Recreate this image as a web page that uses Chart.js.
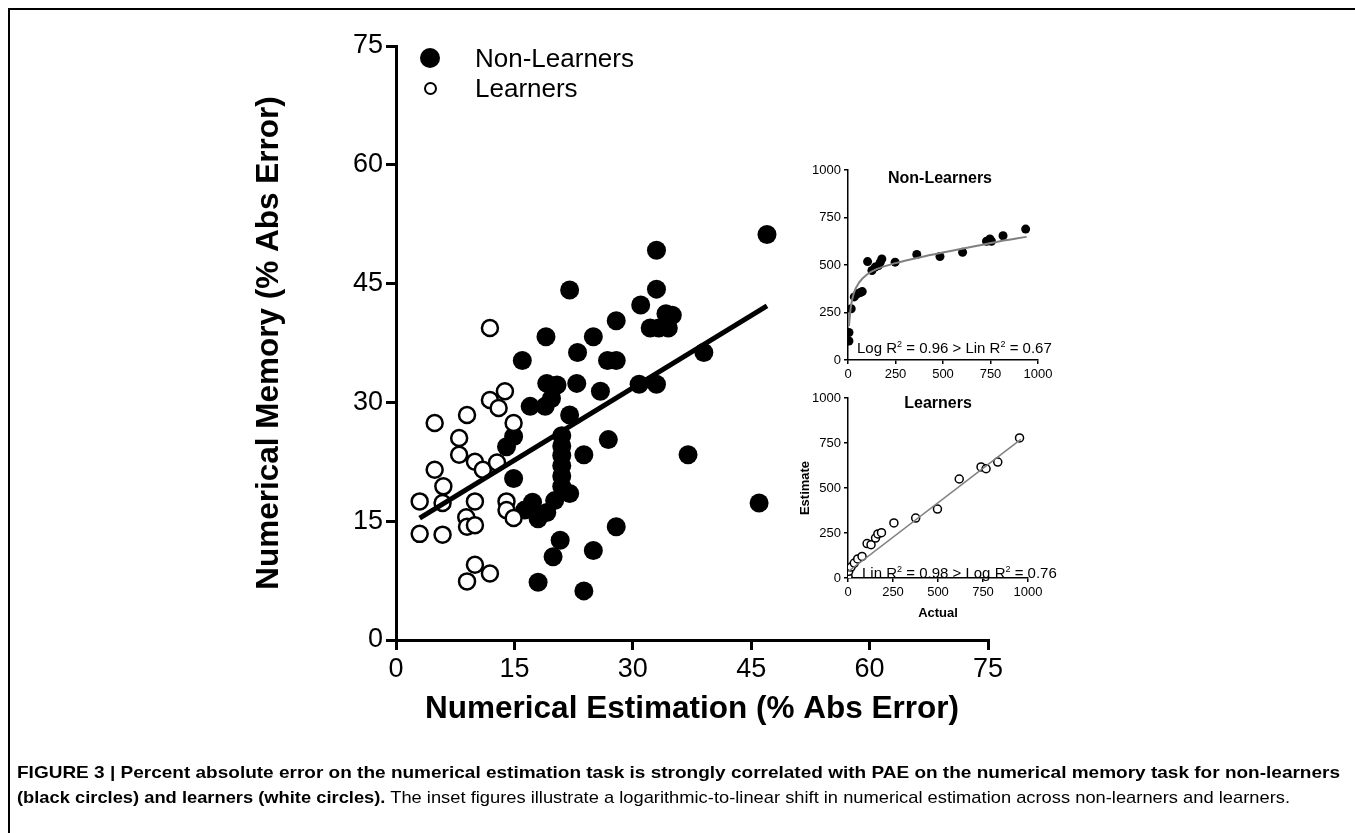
<!DOCTYPE html>
<html>
<head>
<meta charset="utf-8">
<script src="https://cdn.jsdelivr.net/npm/chart.js@4.4.0/dist/chart.umd.min.js"></script>
<style>
    html, body { margin: 0; padding: 0; background: #fff; }
    body { width: 1355px; height: 833px; position: relative; overflow: hidden; color: #000;
           font-family: 'Liberation Sans', Arial, Helvetica, sans-serif; }
    canvas { position: absolute; }
    .frame { position: absolute; left: 8px; top: 8px; width: 1400px; height: 900px;
             border-top: 2.5px solid #000; border-left: 2.5px solid #000; }
    .txt { position: absolute; white-space: nowrap; }
    .dot { position: absolute; border-radius: 50%; box-sizing: border-box; }
    sup { font-size: 0.6em; line-height: 0; vertical-align: 0.65em; }
    .caption { position: absolute; left: 17px; white-space: nowrap; transform-origin: 0 50%;
               font-family: 'Liberation Sans Narrow', 'Liberation Sans', Arial, sans-serif; font-size: 17px; }
</style>
</head>
<body>
<div class="frame"></div>

<canvas id="main" width="1355" height="833" style="left:0;top:0;"></canvas>
<canvas id="inset_nl" width="270" height="245" style="left:790px;top:150px;"></canvas>
<canvas id="inset_l" width="290" height="250" style="left:760px;top:380px;"></canvas>

<!-- legend -->
<div class="dot" style="left:420px;top:48px;width:20px;height:20px;background:#000;"></div>
<div class="dot" style="left:423.5px;top:81.5px;width:13px;height:13px;border:2px solid #000;background:#fff;"></div>
<div class="txt" style="left:475px;top:42px;font-size:26px;line-height:32px;">Non-Learners</div>
<div class="txt" style="left:475px;top:72px;font-size:26px;line-height:32px;">Learners</div>

<!-- inset annotations -->
<div class="txt" style="left:880px;top:169px;width:120px;text-align:center;font-size:16px;font-weight:bold;line-height:18px;">Non-Learners</div>
<div class="txt" style="left:857px;top:338px;font-size:15px;line-height:20px;">Log R<sup>2</sup> = 0.96 &gt; Lin R<sup>2</sup> = 0.67</div>
<div class="txt" style="left:878px;top:394px;width:120px;text-align:center;font-size:16px;font-weight:bold;line-height:18px;">Learners</div>
<div class="txt" style="left:862px;top:563px;font-size:15px;line-height:20px;">Lin R<sup>2</sup> = 0.98 &gt; Log R<sup>2</sup> = 0.76</div>

<!-- caption -->
<div class="caption" id="cap1" style="top:763px;font-weight:bold;">FIGURE 3 | Percent absolute error on the numerical estimation task is strongly correlated with PAE on the numerical memory task for non-learners</div>
<div class="caption" id="cap2" style="top:788px;"><b>(black circles) and learners (white circles).</b> The inset figures illustrate a logarithmic-to-linear shift in numerical estimation across non-learners and learners.</div>

<script>
// main scatter: % abs error, estimation (x) vs memory (y)
var nonLearnersX = [47, 33, 22, 33, 31, 34.2, 35, 32.2, 33.3, 34.5,
                    27.9, 19, 25, 23, 16, 26.8, 27.9, 39, 19.1, 20.4,
                    22.9, 25.9, 30.8, 33, 17, 18.9, 19.7, 22, 14.9, 14,
                    21, 21, 21, 21, 21, 21, 22, 26.9, 23.8, 37,
                    14.9, 16.3, 17.3, 18, 19.1, 20.1, 46, 27.9, 20.8, 19.9,
                    25, 18, 23.8];
var nonLearnersY = [51.2, 49.2, 44.2, 44.3, 42.3, 41.2, 41, 39.4, 39.4, 39.4,
                    40.3, 38.3, 38.3, 36.3, 35.3, 35.3, 35.3, 36.3, 32.4, 32.2,
                    32.4, 31.4, 32.3, 32.3, 29.5, 29.5, 30.5, 28.4, 25.7, 24.4,
                    25.8, 24.5, 23.3, 22, 20.7, 19.4, 18.5, 25.3, 23.4, 23.4,
                    20.4, 16.4, 17.4, 15.3, 16.1, 17.6, 17.3, 14.3, 12.6, 10.5,
                    11.3, 7.3, 6.2];
var learnersX = [11.9, 13.8, 11.9, 13.0, 4.9, 9.0, 14.9, 8.0, 8.0, 10.0,
                 11.0, 12.8, 4.9, 6.0, 3.0, 5.9, 10.0, 14.0, 14.0, 14.9,
                 8.9, 9.0, 10.0, 3.0, 5.9, 10.0, 9.0, 11.9];
var learnersY = [39.4, 31.4, 30.3, 29.3, 27.4, 28.4, 27.4, 25.5, 23.4, 22.5,
                 21.5, 22.4, 21.5, 19.4, 17.5, 17.3, 17.5, 17.5, 16.4, 15.4,
                 15.5, 14.3, 14.5, 13.4, 13.3, 9.5, 7.4, 8.4];
var fitX = [3, 47];
var fitY = [15.4, 42.2];
var mainTicks = [0, 15, 30, 45, 60, 75];

// inset: non-learners, actual vs estimate
var nlActual = [5, 5, 17, 33, 51, 65, 75, 103, 126, 143, 161, 170, 178, 248, 362, 484, 603, 729, 747, 755, 816, 935];
var nlEstimate = [100, 145, 270, 332, 349, 355, 360, 518, 471, 489, 497, 515, 532, 515, 555, 545, 567, 625, 637, 625, 654, 689];
var nlCurveX = [5, 15, 30, 60, 100, 150, 250, 400, 600, 800, 940];
var nlCurveY = [180, 280, 350, 410, 450, 478, 510, 545, 585, 625, 648];

// inset: learners, actual vs estimate
var lActual = [0, 4, 17, 35, 54, 78, 106, 128, 153, 166, 186, 255, 376, 497, 618, 739, 767, 832, 953];
var lEstimate = [9, 37, 61, 83, 106, 120, 191, 185, 222, 245, 252, 306, 333, 383, 550, 617, 607, 644, 778];
var lFitX = [0, 960];
var lFitY = [35, 770];
var insetTicks = [0, 250, 500, 750, 1000];

Chart.defaults.font.family = "'Liberation Sans', Arial, Helvetica, sans-serif";
Chart.defaults.color = '#000';

function toPoints(xs, ys) {
    var out = [];
    for (var i = 0; i < xs.length; i++) out.push({x: xs[i], y: ys[i]});
    return out;
}

// linear axis with fixed tick list, ticks outside, no grid inside
function makeAxis(ticks, lw, tickLen, fontSize, title, fitSize, horizontal) {
    var ax = {
        type: 'linear',
        min: ticks[0],
        max: ticks[ticks.length - 1],
        afterBuildTicks: function(s) {
            s.ticks = ticks.map(function(v) { return {value: v}; });
        },
        ticks: {
            font: {size: fontSize}, color: '#000', padding: 3, maxRotation: 0, autoSkip: false,
            callback: function(v) { return String(v); }
        },
        grid: {drawOnChartArea: false, drawTicks: true, tickLength: tickLen, lineWidth: lw, color: '#000'},
        border: {display: true, width: lw, color: '#000'},
        title: title || {display: false}
    };
    ax.afterFit = function(s) {
        if (horizontal) s.height = fitSize; else s.width = fitSize;
    };
    return ax;
}

new Chart(document.getElementById('main'), {
    type: 'scatter',
    data: {
        datasets: [{
            label: 'Fit',
            data: toPoints(fitX, fitY),
            showLine: true,
            borderColor: '#000',
            borderWidth: 5,
            pointRadius: 0,
            order: 0
        }, {
            label: 'Learners',
            data: toPoints(learnersX, learnersY),
            pointRadius: 8,
            pointBackgroundColor: '#fff',
            pointBorderColor: '#000',
            pointBorderWidth: 2.5,
            order: 1
        }, {
            label: 'Non-Learners',
            data: toPoints(nonLearnersX, nonLearnersY),
            pointRadius: 9.5,
            pointBackgroundColor: '#000',
            pointBorderColor: '#000',
            pointBorderWidth: 0,
            order: 2
        }]
    },
    options: {
        responsive: false,
        animation: false,
        layout: {padding: {left: 240, top: 46, right: 367, bottom: 93}},
        plugins: {legend: {display: false}, tooltip: {enabled: false}},
        scales: {
            x: makeAxis(mainTicks, 3, 10, 27, {
                display: true, text: 'Numerical Estimation (% Abs Error)', color: '#000',
                font: {size: 31.5, weight: 'bold'}, padding: {top: 0, bottom: 12}
            }, 100, true),
            y: makeAxis(mainTicks, 3, 10, 27, {
                display: true, text: 'Numerical Memory (% Abs Error)', color: '#000',
                font: {size: 31.5, weight: 'bold'}, padding: {top: 10, bottom: 0}
            }, 156, false)
        }
    }
});

// inset top: non-learners
new Chart(document.getElementById('inset_nl'), {
    type: 'scatter',
    data: {
        datasets: [{
            label: 'Log fit',
            data: toPoints(nlCurveX, nlCurveY),
            showLine: true,
            cubicInterpolationMode: 'monotone',
            borderColor: '#808080',
            borderWidth: 2,
            pointRadius: 0,
            order: 0
        }, {
            label: 'Non-Learners',
            data: toPoints(nlActual, nlEstimate),
            pointRadius: 4.5,
            pointBackgroundColor: '#000',
            pointBorderWidth: 0,
            order: 1
        }]
    },
    options: {
        responsive: false,
        animation: false,
        layout: {padding: {left: 18, top: 20, right: 22, bottom: 5}},
        plugins: {legend: {display: false}, tooltip: {enabled: false}},
        scales: {
            x: makeAxis(insetTicks, 1.5, 4, 13, null, 30, true),
            y: makeAxis(insetTicks, 1.5, 4, 13, null, 40, false)
        }
    }
});

// inset bottom: learners
new Chart(document.getElementById('inset_l'), {
    type: 'scatter',
    data: {
        datasets: [{
            label: 'Linear fit',
            data: toPoints(lFitX, lFitY),
            showLine: true,
            borderColor: '#808080',
            borderWidth: 1.5,
            pointRadius: 0,
            order: 0
        }, {
            label: 'Learners',
            data: toPoints(lActual, lEstimate),
            pointRadius: 4,
            pointBackgroundColor: '#fff',
            pointBorderColor: '#000',
            pointBorderWidth: 1.5,
            order: 1
        }]
    },
    options: {
        responsive: false,
        animation: false,
        layout: {padding: {left: 28, top: 18, right: 22, bottom: 7}},
        plugins: {legend: {display: false}, tooltip: {enabled: false}},
        scales: {
            x: makeAxis(insetTicks, 1.5, 4, 13, {
                display: true, text: 'Actual', color: '#000',
                font: {size: 13, weight: 'bold'}, padding: {top: 0, bottom: 2}
            }, 45, true),
            y: makeAxis(insetTicks, 1.5, 4, 13, {
                display: true, text: 'Estimate', color: '#000',
                font: {size: 13, weight: 'bold'}, padding: {top: 10, bottom: 0}
            }, 60, false)
        }
    }
});

// squeeze caption lines to the widths they take in the figure
var cap1 = document.getElementById('cap1');
var cap2 = document.getElementById('cap2');
cap1.style.transform = 'scaleX(' + (1323 / cap1.getBoundingClientRect().width) + ')';
cap2.style.transform = 'scaleX(' + (1273 / cap2.getBoundingClientRect().width) + ')';
</script>
</body>
</html>
